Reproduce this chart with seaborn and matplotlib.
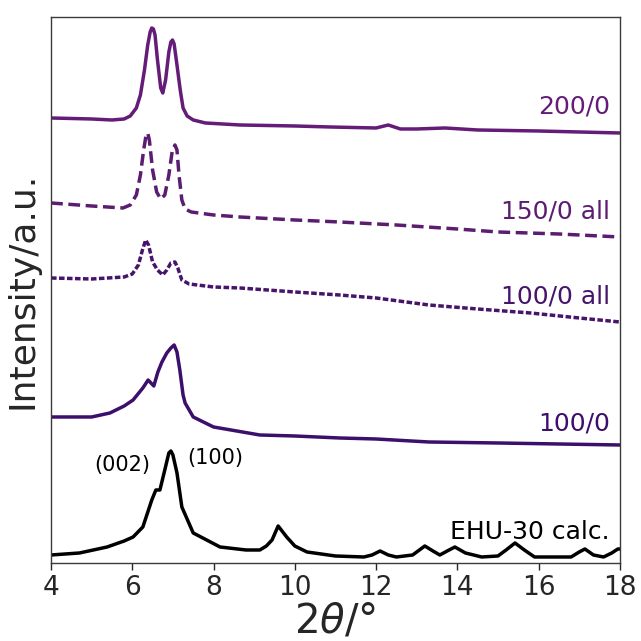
import matplotlib
matplotlib.use("Agg")
import matplotlib.pyplot as plt
import seaborn as sns
import pandas as pd

# ---- data (2theta in degrees, intensity in arbitrary units, already offset) ----
x_200 = [4.0, 5.0, 5.5, 5.8, 5.95, 6.1, 6.2, 6.3, 6.38, 6.44, 6.48, 6.52, 6.56, 6.62, 6.7, 6.75,
         6.82, 6.9, 6.95, 6.99, 7.03, 7.1, 7.18, 7.25, 7.35, 7.5, 7.8, 8.65, 10.0, 10.87, 12.0,
         12.3, 12.6, 13.0, 13.7, 14.5, 16.0, 18.0]
y_200 = [445, 444, 443, 444, 447, 455, 468, 493, 518, 531, 535, 534, 528, 503, 475, 470,
         483, 511, 521, 523, 519, 498, 473, 455, 447, 443, 440, 438, 437, 436, 435,
         438, 434, 434, 435, 433, 432, 430]

x_150 = [4.0, 5.0, 5.77, 5.95, 6.1, 6.2, 6.28, 6.34, 6.38, 6.42, 6.5, 6.6, 6.7, 6.8, 6.9, 6.98,
         7.05, 7.1, 7.15, 7.22, 7.3, 7.45, 8.0, 8.65, 10.0, 11.1, 12.5, 14.0, 15.0, 16.5, 18.0]
y_150 = [360, 357, 355, 358, 368, 388, 413, 428, 430, 423, 393, 371, 364, 368, 388, 411,
         418, 413, 388, 363, 354, 351, 348, 346, 343, 341, 338, 334, 331, 329, 326]

x_100all = [4.0, 5.0, 5.8, 6.0, 6.15, 6.25, 6.33, 6.4, 6.5, 6.62, 6.75, 6.85, 6.95, 7.05, 7.12,
            7.22, 7.4, 8.0, 8.65, 10.0, 11.1, 12.0, 13.3, 14.5, 15.8, 17.0, 18.0]
y_100all = [285, 284, 286, 289, 298, 313, 323, 318, 301, 293, 288, 293, 300, 301, 295,
            283, 279, 276, 275, 271, 268, 265, 258, 254, 250, 245, 241]

x_100 = [4.0, 5.0, 5.45, 5.8, 6.02, 6.26, 6.39, 6.53, 6.63, 6.73, 6.85, 6.95, 7.03, 7.1, 7.17,
         7.25, 7.3, 7.5, 8.0, 9.14, 10.0, 11.1, 12.0, 13.3, 15.0, 18.0]
y_100 = [146, 146, 150, 157, 163, 175, 183, 177, 191, 201, 210, 215, 218, 211, 193,
         168, 160, 146, 136, 128, 127, 125, 124, 121, 120, 118]

x_calc = [4.0, 4.7, 5.38, 5.8, 6.02, 6.26, 6.48, 6.58, 6.68, 6.8, 6.9, 6.95, 7.0, 7.1, 7.22,
          7.5, 8.16, 8.8, 9.14, 9.3, 9.44, 9.59, 9.8, 10.0, 10.3, 11.0, 11.7, 11.9, 12.1,
          12.3, 12.5, 12.9, 13.2, 13.4, 13.57, 13.75, 13.94, 14.2, 14.6, 15.0, 15.2, 15.42,
          15.65, 15.9, 16.8, 17.0, 17.14, 17.35, 17.6, 17.8, 17.95, 18.0]
y_calc = [8, 10, 16, 22, 26, 36, 63, 73, 73, 93, 110, 112, 108, 90, 56,
          30, 16, 13, 13, 17, 23, 37, 26, 17, 11, 7, 6, 8, 12,
          8, 6, 8, 17, 12, 8, 12, 16, 10, 6, 7, 13, 20,
          13, 6, 6, 11, 14, 8, 6, 10, 14, 14]

labels = ["200/0", "150/0 all", "100/0 all", "100/0", "EHU-30 calc."]
label_y = [456, 351, 266, 139, 31]
colors = ["#641c78", "#5b1d70", "#47146c", "#3c0f6c", "#000000"]
styles = ["-", (0, (3.4, 1.6)), (0, (1.6, 0.7)), "-", "-"]
xticks = [4, 6, 8, 10, 12, 14, 16, 18]

sns.set_style("ticks")
plt.rcParams["font.family"] = ["DejaVu Sans"]

fig = plt.figure(figsize=(6.41, 6.41), dpi=100)
ax = fig.add_axes([0.0796, 0.1217, 0.8874, 0.8518])

series = [(x_200, y_200), (x_150, y_150), (x_100all, y_100all), (x_100, y_100), (x_calc, y_calc)]
for (xs, ys), c, ls in zip(series, colors, styles):
    df = pd.DataFrame({"x": xs, "y": ys})
    sns.lineplot(data=df, x="x", y="y", ax=ax, color=c, linewidth=2.5,
                 estimator=None, sort=False)
    ax.lines[-1].set_linestyle(ls)
    ax.lines[-1].set_solid_joinstyle("round")

for lab, ly, c in zip(labels, label_y, colors):
    ax.text(17.75, ly, lab, color=c, fontsize=18, ha="right", va="center")

ax.text(5.75, 98, "(002)", fontsize=15, ha="center", va="center", color="black")
ax.text(8.03, 105, "(100)", fontsize=15, ha="center", va="center", color="black")

ax.set_xlim(4, 18)
ax.set_ylim(0, 546)
ax.set_xticks(xticks)
ax.set_xticklabels([str(t) for t in xticks])
ax.set_yticks([])
ax.tick_params(axis="x", labelsize=19, length=5, width=1, direction="out", pad=4)
ax.set_xlabel(r"$2\theta$/°", fontsize=29, labelpad=0)
ax.set_ylabel("Intensity/a.u.", fontsize=26, labelpad=8)
for s in ax.spines.values():
    s.set_color("#3a3a3a")
    s.set_linewidth(1.0)

fig.savefig("out.png", dpi=100)
